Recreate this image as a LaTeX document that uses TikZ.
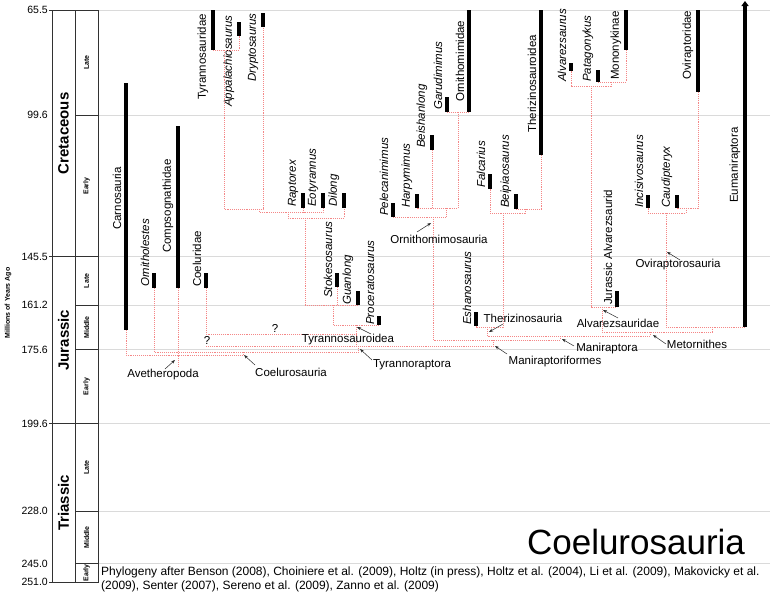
\documentclass[tikz,border=0pt]{standalone}
\usepackage{fontspec}
\setmainfont{Liberation Sans}
\usetikzlibrary{arrows.meta}
\definecolor{clcol}{RGB}{244,135,135}
\definecolor{gridc}{RGB}{218,218,218}
\definecolor{boxc}{RGB}{50,50,50}
\definecolor{annc}{RGB}{40,40,40}
\newcommand\mytaxon[7]{%
  \draw[taxbar] (#2,#3) -- (#2,#4) coordinate (#1);
  \node[#6] (#1-l) at ({#2-4.5},#5) {#7};}
\begin{document}
\begin{tikzpicture}[x=1pt,y=-1pt,
  taxbar/.style={line width=4.5pt, black},
  clade/.style={draw=clcol, line width=0.7pt, dash pattern=on 1pt off 0.9pt},
  gridline/.style={draw=gridc, line width=0.7pt},
  boxline/.style={draw=boxc, line width=0.8pt},
  tup/.style={rotate=90, anchor=south west, inner sep=0pt, font=\fontsize{11.5}{12}\selectfont},
  tit/.style={tup, font=\fontsize{11.5}{12}\selectfont\itshape},
  ann/.style={font=\fontsize{11.5}{12}\selectfont, inner sep=0pt},
  pointer/.style={draw=annc, line width=0.5pt, -{Stealth[length=4pt,width=3pt]}},
  agelab/.style={anchor=east, inner sep=0pt, font=\fontsize{10.5}{11}\selectfont},
  periodlab/.style={rotate=90, inner sep=0pt, font=\fontsize{15}{16}\selectfont\bfseries},
  epochlab/.style={rotate=90, inner sep=0pt, font=\fontsize{7}{8}\selectfont\bfseries}]
\useasboundingbox (0,0) rectangle (775,597);
% grid lines
\foreach \yy in {10,115.2,256.7,305.1,349.5,423.5,511.1,563.5}
  \draw[gridline] (98,\yy) -- (770,\yy);
% time scale box
\draw[boxline] (52,10) rectangle (98,582);
\draw[boxline] (75,10) -- (75,582);
\foreach \yy in {256.7,423.5}
  \draw[boxline] (52,\yy) -- (98,\yy);
\foreach \yy in {115.2,305.1,349.5,511.1,563.5}
  \draw[boxline] (75,\yy) -- (98,\yy);
\foreach \yy in {10,256.7,423.5,582}
  \draw[boxline] (49,\yy) -- (52,\yy);
% ages
\node[agelab] (a1) at (48,10) {65.5};
\node[agelab] (a2) at (48,115.2) {99.6};
\node[agelab] (a3) at (48,256.7) {145.5};
\node[agelab] (a4) at (48,305.1) {161.2};
\node[agelab] (a5) at (48,349.5) {175.6};
\node[agelab] (a6) at (48,423.5) {199.6};
\node[agelab] (a7) at (48,511.1) {228.0};
\node[agelab] (a8) at (48,563.5) {245.0};
\node[agelab] (a9) at (48,582) {251.0};
\node[rotate=90, inner sep=0pt, font=\fontsize{7}{8}\selectfont\bfseries] (mya) at (8,303) {Millions of Years Ago};
% periods
\node[periodlab] (pC) at (63.5,133.4) {Cretaceous};
\node[periodlab] (pJ) at (63.5,340.1) {Jurassic};
\node[periodlab] (pT) at (63.5,502.8) {Triassic};
% epochs
\node[epochlab] (e1) at (86.5,62.6) {Late};
\node[epochlab] (e2) at (86.5,186) {Early};
\node[epochlab] (e3) at (86.5,280.9) {Late};
\node[epochlab] (e4) at (86.5,327.3) {Middle};
\node[epochlab] (e5) at (86.5,386.5) {Early};
\node[epochlab] (e6) at (86.5,467.3) {Late};
\node[epochlab] (e7) at (86.5,537.3) {Middle};
\node[epochlab] (e8) at (86.5,572.8) {Early};
% taxa
\mytaxon{carno}{126}{83}{330}{230}{tup}{Carnosauria}
\mytaxon{ornl}{154}{273}{288}{287}{tit}{Ornitholestes}
\mytaxon{comp}{178}{126}{288}{253}{tup}{Compsognathidae}
\mytaxon{coel}{206}{273}{288}{287}{tup}{Coeluridae}
\mytaxon{tyr}{213}{10}{50}{100}{tup}{Tyrannosauridae}
\mytaxon{app}{239}{22}{36}{107}{tit}{Appalachiosaurus}
\mytaxon{dry}{263}{13}{27}{82}{tit}{Dryptosaurus}
\mytaxon{rap}{303}{193}{208}{207}{tit}{Raptorex}
\mytaxon{eot}{323}{193}{208}{207}{tit}{Eotyrannus}
\mytaxon{dil}{344}{193}{208}{207}{tit}{Dilong}
\mytaxon{stok}{337}{273}{287}{298}{tit}{Stokesosaurus}
\mytaxon{guan}{358}{291}{305}{305}{tit}{Guanlong}
\mytaxon{proc}{379}{316}{325}{325}{tit}{Proceratosaurus}
\mytaxon{pele}{393}{203}{217}{216}{tit}{Pelecanimimus}
\mytaxon{harp}{417}{194}{208}{208}{tit}{Harpymimus}
\mytaxon{beis}{432}{135}{150}{148}{tit}{Beishanlong}
\mytaxon{garu}{447}{97}{112}{110}{tit}{Garudimimus}
\mytaxon{ornm}{469}{10}{112}{102}{tup}{Ornithomimidae}
\mytaxon{esha}{476}{312}{326}{325}{tit}{Eshanosaurus}
\mytaxon{falc}{490}{174}{189}{188}{tit}{Falcarius}
\mytaxon{beip}{516}{194}{209}{208}{tit}{Beipiaosaurus}
\mytaxon{ther}{541}{10}{155}{133}{tup}{Therizinosauroidea}
\mytaxon{alva}{571}{63}{71}{82}{tit}{Alvarezsaurus}
\mytaxon{pata}{598}{70}{82}{82}{tit}{Patagonykus}
\mytaxon{mono}{626}{10}{50}{80}{tup}{Mononykinae}
\mytaxon{jur}{617}{291}{307}{305}{tup}{Jurassic Alvarezsaurid}
\mytaxon{inci}{648}{195}{208}{208}{tit}{Incisivosaurus}
\mytaxon{caud}{677}{195}{208}{208}{tit}{Caudipteryx}
\mytaxon{ovir}{698}{10}{92}{80}{tup}{Oviraptoridae}
\draw[taxbar, -{Triangle[length=5pt,width=7pt]}] (745,327) coordinate (eum) -- (745,1);
\node[tup] (eum-l) at (740.5,203) {Eumaniraptora};
% internal nodes
\coordinate (nTA) at (224,50);
\coordinate (nTAD) at (259,209);
\coordinate (nRap) at (288,212);
\coordinate (nDil) at (305,218);
\coordinate (nStok) at (333,305);
\coordinate (nTyrd) at (356,325);
\coordinate (nGaru) at (458,112);
\coordinate (nBeis) at (446,208);
\coordinate (nOrn) at (433,217);
\coordinate (nBeip) at (525,209);
\coordinate (nFalc) at (503,213);
\coordinate (nTher) at (487,327);
\coordinate (nPata) at (611,82);
\coordinate (nAlva) at (591,86);
\coordinate (nAlvd) at (602,307);
\coordinate (nCaud) at (686,208);
\coordinate (nOvi) at (666,213);
\coordinate (nPara) at (712,327);
\coordinate (nMet) at (650,332);
\coordinate (nMan) at (560,336);
\coordinate (nMif) at (493,340);
\coordinate (nTr) at (358,346);
\coordinate (nCoel) at (243,352);
\coordinate (nAve) at (178,355);
\coordinate (q1) at (206,334);
\coordinate (q2) at (206,346);
% tyrannosauroids
\draw[clade] (tyr) -| (app);
\draw[clade] (nTA) |- (dry |- nTAD) -- (dry);
\draw[clade] (nTAD) -- (259,212) -| (eot);
\draw[clade] (rap) -- (rap |- nRap);
\draw[clade] (nRap) -- (288,218) -| (dil);
\draw[clade] (nDil) |- (guan);
\draw[clade] (stok) -- (stok |- guan);
\draw[clade] (nStok) |- (proc);
\draw[clade] (nTyrd) -- (nTyrd |- nTr);
% basal coelurosaurs
\draw[clade] (coel) -- (q1) -- (q1 -| nTyrd);
\draw[clade] (q2) -- (q2 -| nMif);
\draw[clade] (nTr) -- (nTr |- nCoel);
\draw[clade] (ornl) |- (nTr |- nCoel);
\draw[clade] (comp) -- (178,367);
\draw[clade] (carno) |- (nCoel |- nAve) -- (nCoel);
% ornithomimosaurs
\draw[clade] (garu) -- (ornm);
\draw[clade] (nGaru) |- (harp);
\draw[clade] (beis) -- (beis |- nBeis);
\draw[clade] (nBeis) |- (pele);
\draw[clade] (nOrn) |- (nMan |- nMif) -- (nMan);
\draw[clade] (nMif) -- (nMif |- q2);
% therizinosaurs
\draw[clade] (beip) -| (ther);
\draw[clade] (nBeip) -- (525,213) -| (falc);
\draw[clade] (nFalc) -- (503,327) -| (esha);
\draw[clade] (nTher) |- (nMet |- nMan) -- (nMet);
% alvarezsaurs
\draw[clade] (mono) |- (pata);
\draw[clade] (nPata) -- (611,86) -| (alva);
\draw[clade] (nAlva) |- (jur);
\draw[clade] (nAlvd) |- (nPara |- nMet) -- (nPara);
% oviraptorosaurs and eumaniraptors
\draw[clade] (ovir) |- (caud);
\draw[clade] (nCaud) -- (686,213) -| (inci);
\draw[clade] (nOvi) |- (eum);
% question marks
\node[ann] (qm1) at (207,340) {?};
\node[ann] (qm2) at (275,328) {?};
% clade names with pointers
\node[ann] (lAve) at (163,375) {Avetheropoda};
\draw[pointer] (165,369) -- (175,360);
\node[ann] (lCoel) at (291,372) {Coelurosauria};
\draw[pointer] (255,365) -- (244,355);
\node[ann] (lTyrd) at (348,340) {Tyrannosauroidea};
\draw[pointer] (371,334) -- (357,327);
\node[ann] (lTr) at (412,365) {Tyrannoraptora};
\draw[pointer] (372,360) -- (360,349);
\node[ann] (lOrn) at (439,239) {Ornithomimosauria};
\draw[pointer] (417,232) -- (431,223);
\node[ann] (lTher) at (523,318) {Therizinosauria};
\draw[pointer] (503,324) -- (489,332);
\node[ann] (lMif) at (555,362) {Maniraptoriformes};
\draw[pointer] (507,354) -- (495,346);
\node[ann] (lMan) at (607,349) {Maniraptora};
\draw[pointer] (574,346) -- (562,339);
\node[ann] (lAlvd) at (618,323) {Alvarezsauridae};
\draw[pointer] (618,318) -- (603,310);
\node[ann] (lMet) at (697,344) {Metornithes};
\draw[pointer] (666,344) -- (653,335);
\node[ann] (lOvi) at (678,265) {Oviraptorosauria};
\draw[pointer] (680,260) -- (667,252);
% title and credits
\node[inner sep=0pt, font=\fontsize{35}{40}\selectfont] (title) at (636,542) {Coelurosauria};
\node[anchor=north west, align=left, inner sep=0pt, font=\fontsize{12}{13.5}\selectfont] (cred) at (101,567)
  {Phylogeny after Benson (2008), Choiniere et al. (2009), Holtz (in press), Holtz et al. (2004), Li et al. (2009), Makovicky et al.\\
   (2009), Senter (2007), Sereno et al. (2009), Zanno et al. (2009)};
\end{tikzpicture}
\end{document}
